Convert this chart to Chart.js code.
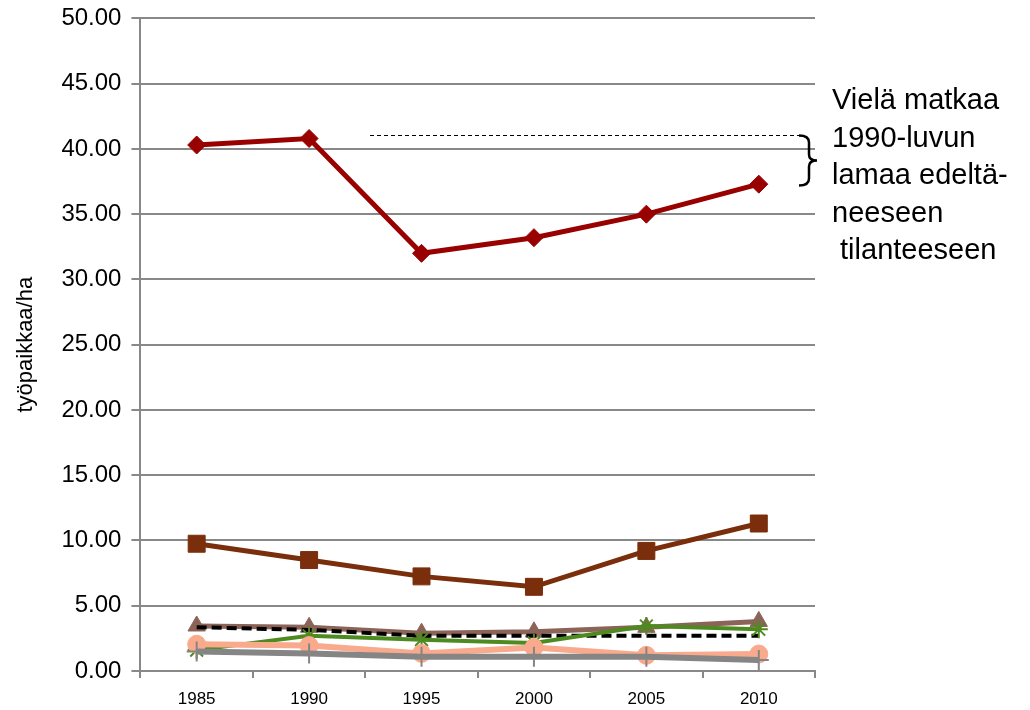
<!DOCTYPE html>
<html>
<head>
<meta charset="utf-8">
<script src="https://cdn.jsdelivr.net/npm/chart.js@4"></script>
<style>
  html, body { margin: 0; padding: 0; background: #fff; }
  #wrap { width: 1030px; height: 710px; position: relative; }
</style>
</head>
<body>
<div id="wrap"><canvas id="myChart" width="1030" height="710"></canvas></div>
<script>
// vuodet ja sarjat (työpaikkaa/ha)
const years = ["1985", "1990", "1995", "2000", "2005", "2010"];
const diamondSeries = [40.3, 40.8, 32.0, 33.2, 35.0, 37.3];
const squareSeries = [9.75, 8.5, 7.25, 6.45, 9.2, 11.3];
const triangleSeries = [3.45, 3.35, 2.9, 3.0, 3.35, 3.8];
const dashedSeries = [3.35, 3.15, 2.7, 2.7, 2.7, 2.7];
const greenSeries = [1.6, 2.7, 2.4, 2.15, 3.45, 3.2];
const orangeSeries = [2.05, 1.95, 1.35, 1.8, 1.2, 1.3];
const graySeries = [1.5, 1.35, 1.1, 1.1, 1.1, 0.85];
const noteLevel = 41.1;
const noteBottom = 37.2;
const noteLines = ["Vielä matkaa", "1990-luvun", "lamaa edeltä-", "neeseen", " tilanteeseen"];

const FONT = "'Liberation Sans', 'DejaVu Sans', sans-serif";

function ds(data, color, style, radius, width, extra) {
  return Object.assign({
    data: data,
    borderColor: color,
    backgroundColor: color,
    pointBackgroundColor: color,
    pointBorderColor: color,
    pointStyle: style,
    pointRadius: radius,
    pointHoverRadius: radius,
    pointBorderWidth: 1,
    borderWidth: width,
    tension: 0,
    fill: false
  }, extra || {});
}

const notePlugin = {
  id: 'note',
  afterDraw(chart) {
    const ctx = chart.ctx;
    const y = chart.scales.y;
    const top = Math.round(y.getPixelForValue(noteLevel)) + 0.5;
    const bottom = Math.round(y.getPixelForValue(noteBottom)) + 0.5;
    ctx.save();
    // katkoviiva
    ctx.strokeStyle = '#000';
    ctx.lineWidth = 1;
    ctx.setLineDash([4, 3]);
    ctx.beginPath();
    ctx.moveTo(370, top);
    ctx.lineTo(800, top);
    ctx.stroke();
    ctx.setLineDash([]);
    // aaltosulku
    ctx.lineWidth = 2.5;
    const mid = (top + bottom) / 2;
    ctx.beginPath();
    ctx.moveTo(799, top);
    ctx.quadraticCurveTo(809, top, 809, top + 7);
    ctx.lineTo(809, mid - 6);
    ctx.quadraticCurveTo(809, mid, 817, mid);
    ctx.quadraticCurveTo(809, mid, 809, mid + 6);
    ctx.lineTo(809, bottom - 7);
    ctx.quadraticCurveTo(809, bottom, 799, bottom);
    ctx.stroke();
    // teksti
    ctx.fillStyle = '#000';
    ctx.font = "29px " + FONT;
    ctx.textBaseline = 'middle';
    ctx.textAlign = 'left';
    noteLines.forEach((t, i) => ctx.fillText(t, 832, 101 + i * 37.5));
    ctx.restore();
  }
};

new Chart(document.getElementById('myChart'), {
  type: 'line',
  data: {
    labels: years,
    datasets: [
      ds(graySeries, '#858585', 'cross', 10, 6, {pointBorderWidth: 2}),
      ds(orangeSeries, '#F9AA8C', 'circle', 9, 6),
      ds(greenSeries, '#4D8A1F', 'star', 9, 4, {pointBorderWidth: 2}),
      ds(dashedSeries, '#000000', 'line', 0, 4, {borderDash: [10, 5]}),
      ds(triangleSeries, '#8C6358', 'triangle', 10, 5),
      ds(squareSeries, '#7A2E0C', 'rect', 12, 5),
      ds(diamondSeries, '#990000', 'rectRot', 9, 5)
    ]
  },
  options: {
    responsive: false,
    animation: false,
    devicePixelRatio: 1,
    layout: { padding: { left: 13, right: 215, top: 0, bottom: -11 } },
    plugins: {
      legend: { display: false },
      tooltip: { enabled: false }
    },
    scales: {
      x: {
        offset: true,
        grid: {
          offset: true,
          drawOnChartArea: false,
          drawTicks: true,
          tickLength: 7,
          color: '#888',
          lineWidth: 2
        },
        border: { color: '#888', width: 2 },
        ticks: { color: '#000', font: { family: FONT, size: 17, lineHeight: 1 }, padding: 13 }
      },
      y: {
        min: 0,
        max: 50,
        title: {
          display: true,
          text: 'työpaikkaa/ha',
          color: '#000',
          font: { family: FONT, size: 22 },
          padding: { top: 0, bottom: 12 }
        },
        grid: { color: '#888', lineWidth: 2, tickLength: 9 },
        border: { color: '#888', width: 2 },
        ticks: {
          stepSize: 5,
          color: '#000',
          padding: 10,
          font: { family: FONT, size: 24, lineHeight: 0.7 },
          callback: v => v.toFixed(2)
        }
      }
    }
  },
  plugins: [notePlugin]
});
</script>
</body>
</html>
